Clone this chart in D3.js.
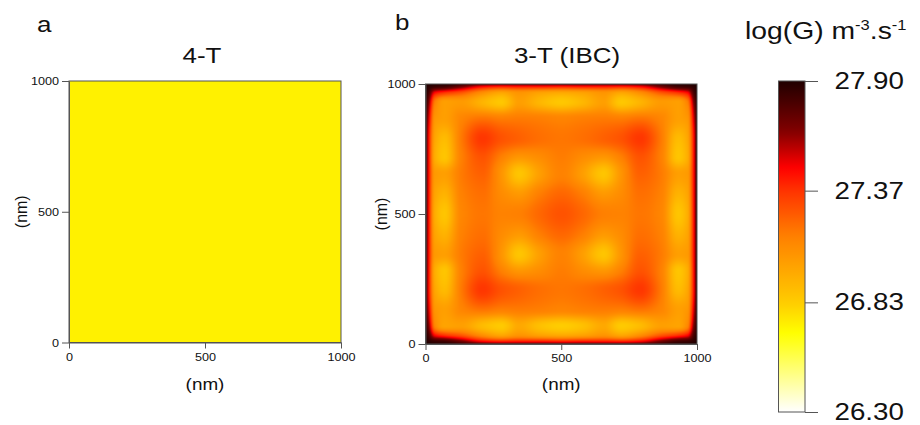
<!DOCTYPE html>
<html><head><meta charset="utf-8">
<script src="https://cdn.jsdelivr.net/npm/d3@7"></script>
<style>
body{margin:0;background:#fff}
svg{display:block}
text{font-family:"Liberation Sans", Arial, sans-serif; fill:#111}
</style>
</head><body>
<svg id="chart" width="920" height="425"></svg>
<script>
// ---------------- data ----------------
const panelLetters = ["a", "b"];
const panelTitles = ["4-T", "3-T (IBC)"];
const axisTicks = [0, 500, 1000];
const axisLabel = "(nm)";
const colorTicks = [26.30, 26.83, 27.37, 27.90];
const colorStopValues = [26.30, 26.68, 26.83, 27.15, 27.37, 27.48, 27.66, 27.90];
const colorStopColors = ["#ffffff", "#ffff00", "#ffcc00", "#ff8000", "#ff3300", "#ff0000", "#800000", "#200000"];
// panel a: uniform log(G)
const valueA = 26.72;
// panel b grid: columns at knotsX (nm), rows at knotsY (nm, top to bottom)
const knotsX = [0, 10, 35, 70, 130, 210, 280, 345, 420, 500, 580, 655, 720, 790, 870, 930, 965, 990, 1000];
const knotsY = [1000, 990, 965, 930, 870, 790, 720, 655, 580, 500, 420, 345, 280, 210, 130, 70, 35, 10, 0];
const gridB = [
  [27.90,27.90,27.88,27.88,27.84,27.76,27.74,27.74,27.74,27.74,27.74,27.74,27.74,27.76,27.84,27.88,27.88,27.90,27.90],
  [27.90,27.88,27.84,27.82,27.70,27.48,27.42,27.44,27.44,27.42,27.44,27.44,27.42,27.48,27.70,27.82,27.84,27.88,27.90],
  [27.88,27.82,27.45,27.35,27.26,27.08,26.98,27.06,27.00,26.97,27.00,27.06,26.98,27.08,27.26,27.35,27.45,27.82,27.88],
  [27.88,27.72,27.15,27.02,27.04,26.93,26.85,27.02,26.92,26.85,26.92,27.02,26.85,26.93,27.04,27.02,27.15,27.72,27.88],
  [27.88,27.60,27.06,27.02,27.12,27.18,27.15,27.16,27.15,27.13,27.15,27.16,27.15,27.18,27.12,27.02,27.06,27.60,27.88],
  [27.88,27.52,26.99,26.90,27.16,27.36,27.28,27.24,27.20,27.18,27.20,27.24,27.28,27.36,27.16,26.90,26.99,27.52,27.88],
  [27.88,27.52,26.96,26.86,27.14,27.28,27.15,27.06,27.10,27.16,27.10,27.06,27.15,27.28,27.14,26.86,26.96,27.52,27.88],
  [27.88,27.52,27.04,27.02,27.16,27.24,27.06,26.86,27.02,27.14,27.02,26.86,27.06,27.24,27.16,27.02,27.04,27.52,27.88],
  [27.88,27.52,27.00,26.94,27.14,27.20,27.10,27.04,27.15,27.22,27.15,27.04,27.10,27.20,27.14,26.94,27.00,27.52,27.88],
  [27.88,27.52,26.96,26.86,27.12,27.18,27.14,27.15,27.22,27.28,27.22,27.15,27.14,27.18,27.12,26.86,26.96,27.52,27.88],
  [27.88,27.52,27.00,26.94,27.14,27.20,27.10,27.04,27.15,27.22,27.15,27.04,27.10,27.20,27.14,26.94,27.00,27.52,27.88],
  [27.88,27.52,27.04,27.02,27.16,27.24,27.06,26.86,27.02,27.14,27.02,26.86,27.06,27.24,27.16,27.02,27.04,27.52,27.88],
  [27.88,27.52,26.96,26.86,27.14,27.28,27.15,27.06,27.10,27.16,27.10,27.06,27.15,27.28,27.14,26.86,26.96,27.52,27.88],
  [27.88,27.52,26.99,26.90,27.16,27.36,27.28,27.24,27.20,27.18,27.20,27.24,27.28,27.36,27.16,26.90,26.99,27.52,27.88],
  [27.88,27.60,27.06,27.02,27.12,27.18,27.15,27.16,27.15,27.13,27.15,27.16,27.15,27.18,27.12,27.02,27.06,27.60,27.88],
  [27.88,27.72,27.12,27.00,27.02,26.90,26.84,26.98,26.88,26.83,26.88,26.98,26.84,26.90,27.02,27.00,27.12,27.72,27.88],
  [27.88,27.82,27.45,27.35,27.26,27.08,26.98,27.06,27.00,26.97,27.00,27.06,26.98,27.08,27.26,27.35,27.45,27.82,27.88],
  [27.90,27.88,27.84,27.82,27.70,27.48,27.42,27.44,27.44,27.42,27.44,27.44,27.42,27.48,27.70,27.82,27.84,27.88,27.90],
  [27.90,27.90,27.88,27.88,27.84,27.76,27.74,27.74,27.74,27.74,27.74,27.74,27.74,27.76,27.84,27.88,27.88,27.90,27.90]
];

// ---------------- setup ----------------
const svg = d3.select("#chart");
const color = d3.scaleLinear().domain(colorStopValues).range(colorStopColors)
  .interpolate(d3.interpolateRgb).clamp(true);
const SX = 1.18;

function label(x, y, str, size, anchor, sx) {
  return svg.append("text")
    .attr("transform", `translate(${x},${y}) scale(${sx},1)`)
    .attr("text-anchor", anchor)
    .style("font-size", size + "px")
    .text(str);
}

const panels = [
  {x0: 69, x1: 341, y0: 81, y1: 342.5, letterX: 37, letterY: 32, titleX: 202, ylabX: 21},
  {x0: 425.5, x1: 697, y0: 84, y1: 344, letterX: 395, letterY: 30, titleX: 567, ylabX: 381}
];

// monotone cubic (PCHIP) interpolation on ascending knots
function pchip(ts, vs) {
  const n = ts.length, h = [], d = [], m = new Array(n);
  for (let i = 0; i < n - 1; i++) { h[i] = ts[i+1] - ts[i]; d[i] = (vs[i+1] - vs[i]) / h[i]; }
  m[0] = d[0]; m[n-1] = d[n-2];
  for (let i = 1; i < n - 1; i++) {
    if (d[i-1] * d[i] <= 0) m[i] = 0;
    else {
      const w1 = 2 * h[i] + h[i-1], w2 = h[i] + 2 * h[i-1];
      m[i] = (w1 + w2) / (w1 / d[i-1] + w2 / d[i]);
    }
  }
  return function(t) {
    let k = d3.bisectRight(ts, t) - 1;
    k = Math.max(0, Math.min(n - 2, k));
    const s = (t - ts[k]) / h[k];
    const s2 = s * s, s3 = s2 * s;
    return (2*s3 - 3*s2 + 1) * vs[k] + (s3 - 2*s2 + s) * h[k] * m[k]
         + (-2*s3 + 3*s2) * vs[k+1] + (s3 - s2) * h[k] * m[k+1];
  };
}

panels.forEach((p, idx) => {
  const xs = d3.scaleLinear().domain([0, 1000]).range([p.x0, p.x1]);
  const ys = d3.scaleLinear().domain([0, 1000]).range([p.y1, p.y0]);
  const g = svg.append("g");

  if (idx === 0) {
    g.append("rect").attr("x", xs(0)).attr("y", ys(1000))
      .attr("width", xs(1000) - xs(0)).attr("height", ys(0) - ys(1000))
      .attr("fill", color(valueA));
  } else {
    const w = Math.round(xs(1000) - xs(0)), h = Math.round(ys(0) - ys(1000));
    const rowsFine = gridB.map(row => {
      const f = pchip(knotsX, row);
      return d3.range(w).map(i => f(xs.invert(xs(0) + (i + 0.5) * (xs(1000) - xs(0)) / w)));
    });
    const yAsc = knotsY.slice().reverse();
    const canvas = document.createElement("canvas");
    canvas.width = w; canvas.height = h;
    const ctx = canvas.getContext("2d");
    const img = ctx.createImageData(w, h);
    for (let i = 0; i < w; i++) {
      const col = rowsFine.map(r => r[i]).reverse();
      const f = pchip(yAsc, col);
      for (let j = 0; j < h; j++) {
        const yn = ys.invert(ys(1000) + (j + 0.5) * (ys(0) - ys(1000)) / h);
        const c = d3.rgb(color(f(yn)));
        const o = (j * w + i) * 4;
        img.data[o] = c.r; img.data[o+1] = c.g; img.data[o+2] = c.b; img.data[o+3] = 255;
      }
    }
    ctx.putImageData(img, 0, 0);
    g.append("image").attr("x", xs(0)).attr("y", ys(1000))
      .attr("width", xs(1000) - xs(0)).attr("height", ys(0) - ys(1000))
      .attr("preserveAspectRatio", "none")
      .attr("href", canvas.toDataURL());
  }
  g.append("rect").attr("x", xs(0)).attr("y", ys(1000))
    .attr("width", xs(1000) - xs(0)).attr("height", ys(0) - ys(1000))
    .attr("fill", "none").attr("stroke", "#555").attr("stroke-width", 1);

  const ax = g.append("g").attr("transform", `translate(0,${ys(0)})`)
    .call(d3.axisBottom(xs).tickValues(axisTicks).tickFormat(d3.format("d"))
      .tickSize(6).tickSizeOuter(0).tickPadding(4));
  const ay = g.append("g").attr("transform", `translate(${xs(0)},0)`)
    .call(d3.axisLeft(ys).tickValues(axisTicks).tickFormat(d3.format("d"))
      .tickSize(7).tickSizeOuter(0).tickPadding(2));
  [ax, ay].forEach(a => {
    a.select(".domain").attr("stroke", "#555");
    a.selectAll(".tick line").attr("stroke", "#555");
    a.selectAll(".tick text").style("font-size", "11.5px")
      .style("font-family", '"Liberation Sans", Arial, sans-serif').attr("fill", "#222")
      .attr("transform", "scale(1.1,1)");
  });

  label(p.letterX, p.letterY, panelLetters[idx], 22, "start", SX);
  label(p.titleX, 63, panelTitles[idx], 22, "middle", SX);
  label((p.x0 + p.x1) / 2, 390, axisLabel, 16, "middle", SX);
  svg.append("text")
    .attr("transform", `translate(${p.ylabX},${(p.y0 + p.y1) / 2}) rotate(-90)`)
    .attr("text-anchor", "middle").attr("dy", "0.35em")
    .style("font-size", "16px").text(axisLabel);
});

// ---------------- colorbar ----------------
const cb = {x0: 778.5, x1: 805, y0: 81, y1: 412};
const cScale = d3.scaleLinear().domain([26.30, 27.90]).range([cb.y1, cb.y0]);
const defs = svg.append("defs");
const grad = defs.append("linearGradient").attr("id", "cbgrad")
  .attr("x1", 0).attr("y1", 1).attr("x2", 0).attr("y2", 0);
d3.range(0, 1.0001, 0.02).forEach(t => {
  const v = 26.30 + t * 1.60;
  grad.append("stop").attr("offset", t).attr("stop-color", color(v));
});
svg.append("rect").attr("x", cb.x0).attr("y", cScale(27.90))
  .attr("width", cb.x1 - cb.x0).attr("height", cScale(26.30) - cScale(27.90))
  .attr("fill", "url(#cbgrad)").attr("stroke", "#555").attr("stroke-width", 1);
const cax = svg.append("g").attr("transform", `translate(${cb.x1},0)`)
  .call(d3.axisRight(cScale).tickValues(colorTicks).tickSize(13).tickPadding(12)
    .tickFormat(d3.format(".2f")));
cax.select(".domain").remove();
cax.selectAll(".tick line").attr("stroke", "#555");
cax.selectAll(".tick text").style("font-size", "23.5px")
  .style("font-family", '"Liberation Sans", Arial, sans-serif').attr("fill", "#111")
  .attr("transform", `scale(${SX},1)`);

const title = svg.append("text")
  .attr("transform", `translate(745,39) scale(${SX},1)`)
  .style("font-size", "24px");
title.append("tspan").text("log(G) m");
title.append("tspan").attr("dy", -9).style("font-size", "14px").text("-3");
title.append("tspan").attr("dy", 9).text(".s");
title.append("tspan").attr("dy", -9).style("font-size", "14px").text("-1");
</script>
</body></html>
